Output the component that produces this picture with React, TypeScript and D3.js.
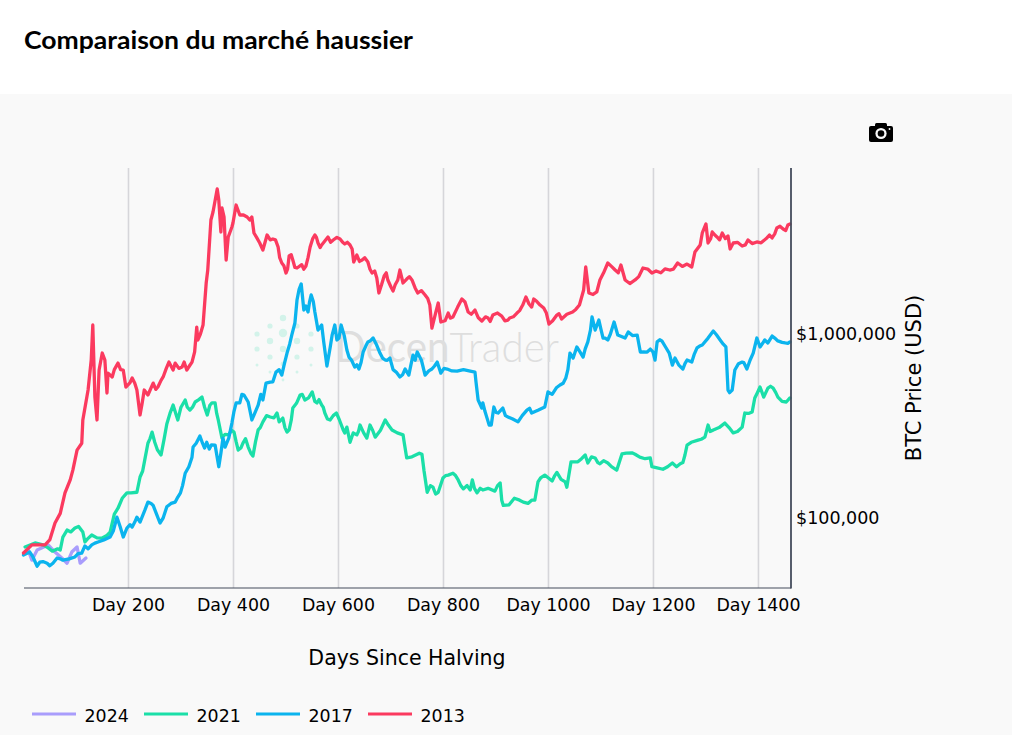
import React from "react";
import * as d3 from "d3";

const title = "Comparaison du marché haussier";
const xTickDays = [200, 400, 600, 800, 1000, 1200, 1400];
const yTickPrices = [100000, 1000000];

const days2024 = [3, 9, 16, 26, 47, 60, 73, 83, 92, 102, 108, 119];
const price2024 = [65.3, 67, 59, 67, 71.4, 65.3, 60.6, 56.8, 65.3, 69.6, 56.8, 60.6];

const days2021 = [3, 22, 37, 47, 70, 75, 83, 98, 113, 117, 130, 150, 165, 169, 180, 197, 216, 222, 231, 237, 245, 250, 262, 273, 285, 294, 308, 317, 327, 340, 350, 359, 365, 371, 378, 391, 401, 409, 418, 428, 437, 447, 456, 470, 483, 487, 494, 502, 506, 513, 527, 536, 550, 559, 568, 574, 584, 596, 609, 616, 622, 635, 641, 654, 660, 670, 689, 702, 723, 730, 750, 759, 769, 780, 790, 799, 809, 818, 828, 838, 851, 855, 864, 875, 898, 908, 914, 945, 961, 974, 980, 993, 1007, 1016, 1032, 1035, 1043, 1056, 1070, 1075, 1089, 1098, 1113, 1130, 1140, 1159, 1174, 1194, 1197, 1218, 1236, 1251, 1260, 1264, 1285, 1298, 1304, 1314, 1336, 1352, 1369, 1374, 1388, 1393, 1403, 1410, 1418, 1428, 1437, 1453, 1460];
const price2021 = [69.6, 73.2, 71.4, 68.8, 67, 78.8, 86, 88.2, 83.9, 74.1, 80.8, 77.8, 83.9, 93.9, 113, 137, 138, 167, 207, 255, 293, 258, 220, 324, 411, 341, 438, 386, 427, 454, 363, 422, 422, 341, 272, 283, 293, 234, 255, 243, 217, 301, 333, 354, 372, 333, 349, 293, 301, 396, 466, 438, 484, 422, 411, 372, 341, 372, 301, 312, 258, 283, 320, 272, 320, 275, 341, 301, 283, 212, 222, 222, 138, 147, 138, 165, 171, 175, 161, 144, 142, 161, 137, 142, 140, 155, 117, 125, 120, 125, 157, 171, 159, 177, 157, 147, 202, 202, 220, 199, 212, 197, 199, 182, 223, 226, 214, 212, 190, 184, 199, 197, 220, 249, 265, 275, 320, 301, 328, 290, 312, 372, 377, 449, 515, 454, 508, 508, 454, 427, 449];
const detailDays2021 = [55, 65, 90, 105, 122, 140, 158, 173, 188, 205, 227, 241, 255, 268, 279, 290, 300, 312, 322, 334, 345, 355, 368, 384, 396, 405, 414, 423, 433, 442, 451, 463, 477, 498, 510, 520, 531, 543, 555, 563, 571, 579, 590, 602, 612, 628, 638, 648, 665, 680, 695, 712, 725, 740, 754, 763, 775, 785, 804, 823, 833, 845, 859, 870, 885, 903, 911, 925, 935, 952, 968, 985, 1000, 1012, 1024, 1063, 1082, 1094, 1105, 1120, 1148, 1165, 1184, 1205, 1227, 1244, 1256, 1272, 1291, 1308, 1325, 1344, 1360, 1381, 1398, 1414, 1423, 1433, 1445];
const detailPrice2021 = [66, 68, 84, 90, 77, 78, 80, 105, 128, 137, 180, 270, 235, 270, 370, 370, 400, 400, 400, 440, 400, 410, 370, 285, 300, 260, 240, 270, 225, 260, 310, 360, 350, 310, 340, 420, 470, 450, 430, 440, 400, 345, 360, 340, 290, 290, 295, 290, 300, 300, 320, 290, 260, 215, 225, 180, 150, 135, 170, 170, 150, 150, 145, 145, 145, 150, 125, 118, 128, 122, 125, 165, 165, 170, 162, 210, 215, 200, 205, 190, 225, 222, 210, 188, 190, 190, 200, 258, 268, 295, 310, 310, 295, 370, 480, 480, 520, 480, 430];

const days2017 = [0, 12, 18, 26, 31, 45, 56, 64, 75, 98, 111, 117, 130, 142, 165, 178, 190, 197, 207, 216, 222, 237, 247, 254, 260, 273, 289, 299, 308, 321, 323, 336, 345, 349, 354, 365, 372, 380, 384, 391, 397, 405, 412, 420, 428, 435, 447, 456, 462, 470, 481, 492, 502, 511, 517, 521, 529, 534, 542, 548, 555, 561, 568, 578, 584, 593, 597, 605, 616, 620, 631, 639, 647, 656, 666, 679, 689, 698, 710, 717, 727, 734, 742, 750, 765, 778, 788, 795, 807, 826, 851, 860, 862, 866, 873, 875, 883, 891, 896, 904, 913, 923, 942, 959, 968, 993, 999, 1022, 1033, 1041, 1047, 1054, 1066, 1075, 1083, 1089, 1096, 1104, 1113, 1125, 1132, 1146, 1152, 1169, 1175, 1188, 1194, 1203, 1207, 1216, 1230, 1236, 1241, 1256, 1264, 1273, 1283, 1293, 1314, 1327, 1338, 1342, 1350, 1355, 1369, 1378, 1390, 1397, 1403, 1412, 1418, 1426, 1437, 1451, 1460];
const price2017 = [62.9, 65.3, 61.4, 54.7, 57.5, 56.8, 56.8, 60.6, 59, 61.4, 64.5, 70.5, 71.4, 74.1, 78.8, 101, 78.8, 88.2, 89.3, 101, 95.1, 122, 117, 104, 93.9, 115, 122, 137, 175, 214, 243, 279, 240, 258, 237, 249, 190, 272, 243, 272, 328, 422, 422, 466, 427, 341, 411, 438, 541, 548, 621, 598, 788, 987, 1147, 1530, 1870, 1350, 1317, 1630, 1317, 1051, 1119, 670, 840, 1119, 928, 1119, 818, 749, 661, 645, 798, 906, 951, 788, 722, 740, 621, 584, 645, 598, 768, 798, 598, 645, 704, 613, 645, 629, 629, 621, 548, 438, 396, 422, 349, 320, 401, 372, 396, 354, 333, 386, 372, 401, 484, 528, 576, 788, 740, 850, 749, 906, 1237, 1051, 1191, 951, 928, 1162, 987, 951, 1025, 987, 798, 798, 828, 722, 906, 917, 788, 678, 740, 645, 722, 704, 840, 872, 1038, 928, 850, 496, 496, 637, 704, 645, 788, 951, 850, 928, 894, 975, 917, 894, 906];
const detailDays2017 = [37, 50, 70, 87, 104, 123, 136, 153, 171, 184, 203, 212, 231, 243, 266, 281, 294, 303, 315, 329, 341, 358, 376, 401, 416, 442, 452, 475, 487, 497, 507, 525, 538, 545, 552, 572, 588, 601, 611, 625, 635, 643, 652, 661, 672, 684, 693, 704, 722, 738, 746, 758, 772, 783, 801, 816, 838, 879, 887, 900, 918, 932, 950, 964, 980, 1007, 1015, 1028, 1037, 1060, 1070, 1080, 1100, 1108, 1118, 1139, 1160, 1181, 1199, 1212, 1223, 1248, 1260, 1278, 1288, 1304, 1320, 1333, 1345, 1362, 1372, 1384, 1408, 1431, 1445, 1456];
const detailPrice2017 = [58, 55, 60, 60, 64, 68, 73, 76, 85, 90, 92, 95, 110, 120, 100, 120, 130, 150, 190, 255, 255, 250, 225, 380, 470, 380, 470, 550, 640, 690, 880, 1750, 1420, 1500, 1500, 900, 990, 950, 980, 720, 680, 700, 860, 920, 880, 740, 720, 640, 600, 680, 720, 720, 630, 670, 650, 630, 640, 380, 320, 375, 360, 345, 360, 395, 385, 470, 510, 540, 640, 800, 830, 1050, 1060, 950, 1000, 970, 980, 800, 800, 930, 850, 680, 690, 780, 860, 950, 990, 880, 480, 690, 700, 720, 890, 950, 900, 890];

const days2013 = [0, 16, 41, 50, 60, 70, 79, 89, 94, 102, 111, 113, 123, 129, 132, 136, 140, 144, 150, 155, 159, 161, 169, 180, 190, 195, 207, 216, 222, 230, 237, 247, 256, 266, 277, 285, 289, 302, 306, 311, 321, 330, 332, 342, 348, 351, 357, 361, 369, 372, 376, 378, 382, 386, 390, 397, 399, 405, 412, 426, 435, 439, 450, 456, 464, 475, 485, 492, 500, 506, 513, 521, 538, 546, 555, 561, 568, 580, 590, 603, 612, 622, 629, 635, 645, 656, 664, 673, 677, 687, 694, 704, 713, 717, 723, 730, 740, 751, 765, 774, 778, 790, 795, 809, 818, 835, 841, 847, 860, 873, 885, 894, 911, 923, 926, 940, 951, 957, 963, 972, 984, 991, 1001, 1016, 1025, 1046, 1059, 1067, 1071, 1077, 1092, 1098, 1113, 1127, 1138, 1146, 1165, 1180, 1189, 1197, 1231, 1246, 1273, 1279, 1289, 1293, 1300, 1304, 1312, 1321, 1331, 1342, 1346, 1352, 1369, 1380, 1397, 1416, 1426, 1435, 1447, 1456, 1460];
const price2013 = [64.5, 71.4, 71.4, 76, 93.9, 106, 137, 161, 182, 234, 255, 341, 496, 722, 1119, 454, 341, 637, 788, 722, 478, 613, 584, 695, 637, 515, 576, 496, 363, 496, 466, 541, 515, 584, 704, 637, 695, 661, 704, 637, 704, 1091, 928, 1119, 1893, 2227, 4165, 4604, 6139, 5348, 3585, 4840, 4325, 2525, 3368, 3816, 4011, 5023, 4434, 4325, 4325, 3540, 3123, 2861, 3453, 3285, 2971, 2432, 2145, 2654, 2525, 2284, 2342, 2971, 3453, 3123, 3046, 3368, 3243, 3285, 3085, 3046, 2463, 2687, 2525, 2463, 2145, 2015, 1671, 2066, 1966, 1713, 1966, 2227, 1893, 1990, 1966, 1671, 1630, 1437, 1077, 1474, 1162, 1300, 1237, 1550, 1492, 1317, 1350, 1176, 1221, 1268, 1252, 1191, 1221, 1300, 1437, 1589, 1455, 1550, 1437, 1384, 1133, 1268, 1206, 1317, 1437, 1735, 2313, 1671, 1692, 1966, 2432, 2227, 2372, 1966, 1966, 2284, 2255, 2145, 2227, 2432, 2313, 2790, 3046, 3540, 3962, 3123, 3585, 3368, 3540, 3410, 2898, 3123, 3008, 3243, 3163, 3326, 3326, 3768, 3721, 3912, 3962];
const detailDays2013 = [173, 185, 203, 212, 226, 252, 262, 272, 296, 316, 326, 337, 419, 431, 444, 470, 480, 488, 496, 503, 510, 517, 530, 534, 542, 551, 558, 565, 574, 585, 597, 608, 617, 626, 640, 650, 660, 669, 682, 691, 700, 708, 735, 746, 758, 770, 785, 803, 813, 827, 853, 866, 880, 889, 903, 917, 933, 945, 968, 978, 996, 1008, 1020, 1035, 1052, 1085, 1105, 1120, 1133, 1155, 1172, 1205, 1214, 1222, 1238, 1255, 1264, 1309, 1317, 1326, 1337, 1360, 1375, 1388, 1405, 1421, 1431, 1441, 1452];
const detailPrice2013 = [640, 640, 545, 540, 420, 500, 560, 650, 650, 670, 800, 1000, 4434, 4165, 3350, 3250, 3250, 2600, 2350, 2250, 2700, 2300, 2380, 2250, 2600, 3300, 3350, 2950, 3200, 3150, 3350, 3150, 3150, 2900, 2480, 2600, 2250, 2200, 1850, 2150, 1800, 1850, 2050, 1780, 1720, 1560, 1300, 1180, 1220, 1400, 1280, 1230, 1240, 1170, 1300, 1180, 1240, 1340, 1400, 1500, 1300, 1180, 1290, 1280, 1360, 1640, 2150, 2330, 2150, 1880, 2050, 2200, 2150, 2260, 2250, 2330, 2400, 3300, 3450, 3250, 3300, 3150, 3050, 3100, 3130, 3450, 3500, 3850, 3650];

function merged(d1: number[], p1: number[], d2: number[], p2: number[]) {
  const rows = [...d1.map((d, i) => [d, p1[i]]), ...d2.map((d, i) => [d, p2[i]])] as [number, number][];
  return rows.sort((a, b) => d3.ascending(a[0], b[0]));
}

const seriesList = [
  { name: "2024", rows: merged(days2024, price2024, [], []), color: "#a99dfc" },
  { name: "2021", rows: merged(days2021, price2021, detailDays2021, detailPrice2021), color: "#1bdfa8" },
  { name: "2017", rows: merged(days2017, price2017, detailDays2017, detailPrice2017), color: "#0bb4ee" },
  { name: "2013", rows: merged(days2013, price2013, detailDays2013, detailPrice2013), color: "#fb3a5f" },
];

const logoColumns = [
  { dx: -26, ys: [-7, 8, 24], r: [2.6, 2.6, 1.5] },
  { dx: -13, ys: [-15, 0, 16, 31], r: [2.6, 3.2, 2.6, 1.5] },
  { dx: 0, ys: [-23, -8, 8, 23, 39], r: [3.2, 4.2, 3.2, 2.4, 1.4] },
  { dx: 14, ys: [-15, 0, 16, 31], r: [2.6, 3.2, 2.6, 1.5] },
  { dx: 28, ys: [-7, 8, 24], r: [2.6, 2.6, 1.5] },
];

const x = d3.scaleLinear().domain([0, 1462]).range([23.5, 791]);
const y = d3.scaleLog().domain([100000, 1000000]).range([518, 334]);
const plotTop = 168;
const plotBottom = 588;
const font = "'DejaVu Sans', Verdana, sans-serif";

const linePath = d3
  .line<[number, number]>()
  .x((p) => x(p[0]))
  .y((p) => y(p[1] * 1000))
  .curve(d3.curveLinear);

export default function App() {
  return (
    <svg
      width={1012}
      height={735}
      viewBox="0 0 1012 735"
      style={{ position: "absolute", left: 0, top: 0, display: "block" }}
    >
      <rect x={0} y={0} width={1012} height={735} fill="#ffffff" />
      <rect x={0} y={94} width={1012} height={641} fill="#f9f9f9" />
      <text x={24} y={49} fontFamily="Lato, sans-serif" fontWeight={700} fontSize={25} fill="#000" textLength={389} lengthAdjust="spacingAndGlyphs">
        {title}
      </text>

      {/* camera icon */}
      <g fill="#000">
        <rect x={869} y={126} width={24} height={16} rx={2} />
        <rect x={875} y={123} width={12} height={5} rx={1.5} />
        <circle cx={881} cy={133.5} r={5.6} fill="#f9f9f9" />
        <circle cx={881} cy={133.5} r={3.3} fill="#000" />
        <circle cx={889.5} cy={129} r={0.9} fill="#f9f9f9" />
      </g>

      {/* gridlines */}
      {xTickDays.map((d) => (
        <line key={d} x1={x(d)} x2={x(d)} y1={plotTop} y2={plotBottom} stroke="#d6d6da" strokeWidth={1.6} />
      ))}

      {/* watermark */}
      <g fill="#d3f3ea">
        {logoColumns.map((c) =>
          c.ys.map((dy, i) => <circle key={`${c.dx}-${dy}`} cx={283 + c.dx} cy={341 + dy} r={c.r[i]} />)
        )}
      </g>
      <text x={335} y={362} fontFamily="Lato, sans-serif" fontSize={42} fill="#dedede" textLength={224} lengthAdjust="spacingAndGlyphs">
        <tspan fontWeight={400}>Decen</tspan>
        <tspan fontWeight={300}>Trader</tspan>
      </text>

      {/* series */}
      {seriesList.map((s) => (
        <path
          key={s.name}
          d={linePath(s.rows) as string}
          fill="none"
          stroke={s.color}
          strokeWidth={3.3}
          strokeLinejoin="round"
          strokeLinecap="round"
        />
      ))}

      {/* axes */}
      <line x1={24} x2={791} y1={plotBottom} y2={plotBottom} stroke="#444c5c" strokeWidth={1.2} />
      <line x1={791} x2={791} y1={plotTop} y2={plotBottom + 0.5} stroke="#444c5c" strokeWidth={1.8} />

      {xTickDays.map((d) => (
        <text key={d} x={x(d)} y={611} textAnchor="middle" fontFamily={font} fontSize={17.4} fill="#000">
          {`Day ${d}`}
        </text>
      ))}
      {yTickPrices.map((p) => (
        <text key={p} x={796} y={y(p) + 6} fontFamily={font} fontSize={17.5} fill="#000">
          {"$" + d3.format(",")(p)}
        </text>
      ))}

      <text x={407} y={665} textAnchor="middle" fontFamily={font} fontSize={20.5} fill="#000">
        Days Since Halving
      </text>
      <text
        transform="translate(921,378) rotate(-90)"
        textAnchor="middle"
        fontFamily={font}
        fontSize={21}
        fill="#000"
      >
        BTC Price (USD)
      </text>

      {/* legend */}
      {seriesList.map((s, i) => (
        <g key={s.name} transform={`translate(${32 + i * 112},0)`}>
          <line x1={0} x2={44} y1={714} y2={714} stroke={s.color} strokeWidth={3} />
          <text x={52.5} y={722} fontFamily={font} fontSize={17.4} fill="#000">
            {s.name}
          </text>
        </g>
      ))}
    </svg>
  );
}
